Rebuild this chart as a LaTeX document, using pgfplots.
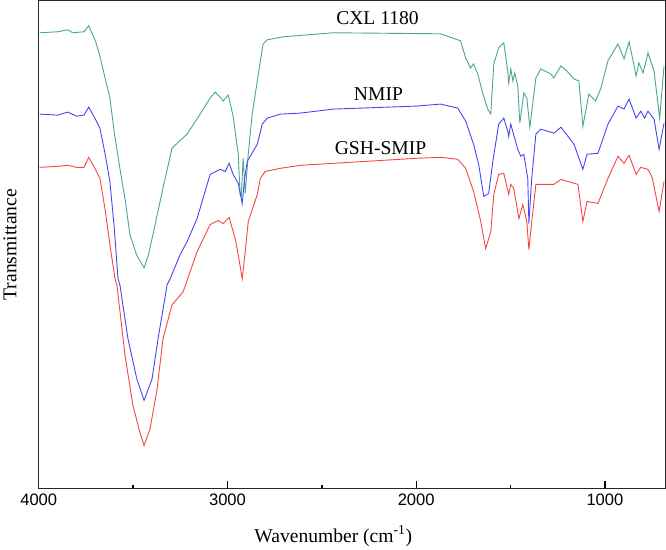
\documentclass[border=0pt]{standalone}
\usepackage{fontspec}
\setmainfont{Liberation Serif}
\newfontfamily\sansf{Liberation Sans}
\usepackage{pgfplots}
\pgfplotsset{compat=1.18}
\definecolor{cteal}{RGB}{72,166,152}
\definecolor{cblue}{RGB}{70,70,245}
\definecolor{cred}{RGB}{245,70,70}
\begin{document}
\begin{tikzpicture}
\begin{axis}[
  scale only axis,
  width=624pt, height=486pt,
  x dir=reverse,
  xmin=680, xmax=4000,
  ymin=0, ymax=486,
  xtick={1000,2000,3000,4000},
  minor xtick={1500,2500,3500},
  ytick=\empty,
  xtick pos=bottom,
  tick align=inside,
  major tick length=8pt,
  minor tick length=4pt,
  every tick/.style={black, line width=1.3pt},
  axis line style={line width=1.3pt, black!85},
  /pgf/number format/1000 sep={},
  /pgf/number format/assume math mode=true,
  xticklabel style={font=\sansf\fontsize{16.5}{18}\selectfont, yshift=-2pt},
  xlabel={Wavenumber (cm\textsuperscript{-1})},
  ylabel={Transmittance},
  xlabel style={font=\fontsize{19.5}{22}\selectfont, at={(axis description cs:0.47,-0.097)}, anchor=center},
  ylabel style={font=\fontsize{19.5}{22}\selectfont, at={(axis description cs:-0.046,0.5)}, anchor=center},
  clip=false,
]
\addplot[cteal, line width=0.9pt] coordinates {
(3995,454) (3900,455) (3846,457) (3820,454) (3760,455) (3735,461) (3700,446) (3676,431) (3650,410) (3623,389) (3600,355) (3570,319) (3540,285) (3517,253) (3480,232) (3442,220) (3420,232) (3395,253) (3342,299) (3294,339) (3250,347) (3214,353) (3145,373) (3092,389) (3065,395) (3040,390) (3023,386) (2996,392) (2970,371) (2943,333) (2933,293) (2927,291) (2917,329) (2906,294) (2890,333) (2869,373) (2842,406) (2826,426) (2811,443) (2789,447) (2704,450) (2439,454) (1871,453) (1765,446) (1738,429) (1712,419) (1696,423) (1674,413) (1648,394) (1621,378) (1605,373) (1589,423) (1563,439) (1536,444) (1515,416) (1510,404) (1499,418) (1488,406) (1478,414) (1462,401) (1451,364) (1430,394) (1414,389) (1398,360) (1366,409) (1340,418) (1287,413) (1271,409) (1233,421) (1202,416) (1164,408) (1138,406) (1117,361) (1085,393) (1050,386) (1021,399) (984,426) (931,443) (899,428) (872,445) (835,411) (820,424) (798,414) (772,434) (740,416) (710,369) (687,421)
};
\addplot[cblue, line width=0.9pt] coordinates {
(3995,373) (3900,372) (3846,375) (3800,371) (3760,372) (3735,380) (3700,368) (3676,359) (3650,335) (3623,306) (3600,260) (3580,209) (3570,203) (3527,149) (3480,109) (3442,88) (3400,109) (3368,149) (3320,203) (3304,209) (3251,233) (3214,246) (3161,269) (3092,313) (3039,318) (3012,316) (2991,324) (2970,313) (2943,304) (2922,284) (2911,306) (2895,326) (2842,343) (2816,363) (2789,369) (2720,373) (2614,374) (2439,378) (1998,381) (1871,383) (1780,379) (1738,366) (1696,343) (1669,323) (1642,291) (1616,294) (1594,326) (1563,363) (1536,369) (1515,356) (1510,351) (1499,363) (1462,338) (1446,331) (1430,333) (1409,309) (1403,264) (1388,309) (1366,353) (1340,358) (1287,355) (1271,354) (1233,360) (1164,343) (1117,318) (1095,333) (1037,334) (984,363) (931,381) (899,378) (872,388) (835,369) (810,376) (790,369) (772,376) (740,368) (713,338) (687,364)
};
\addplot[cred, line width=0.9pt] coordinates {
(3995,320) (3900,321) (3846,322) (3800,320) (3760,320) (3735,330) (3700,318) (3676,309) (3650,280) (3623,243) (3596,209) (3586,203) (3543,133) (3501,83) (3464,56) (3442,43) (3411,59) (3373,99) (3342,149) (3294,183) (3235,196) (3161,236) (3092,263) (3050,267) (3023,264) (2991,270) (2959,249) (2943,233) (2922,209) (2906,236) (2890,266) (2842,293) (2826,309) (2800,316) (2720,319) (2614,322) (2439,324) (1998,329) (1871,330) (1780,328) (1738,319) (1696,296) (1658,266) (1632,239) (1605,256) (1589,293) (1563,313) (1536,314) (1510,293) (1499,303) (1483,299) (1456,269) (1435,283) (1414,266) (1403,238) (1388,266) (1366,303) (1287,303) (1271,303) (1233,308) (1143,303) (1117,266) (1095,286) (1037,284) (984,309) (931,331) (899,324) (872,332) (835,313) (810,320) (772,318) (750,310) (713,276) (687,306)
};
\node[font=\fontsize{19.5}{22}\selectfont] at (axis cs:2205,469) {CXL 1180};
\node[font=\fontsize{19.5}{22}\selectfont] at (axis cs:2200,393) {NMIP};
\node[font=\fontsize{19.5}{22}\selectfont] at (axis cs:2189,339) {GSH-SMIP};
\end{axis}
\end{tikzpicture}
\end{document}
